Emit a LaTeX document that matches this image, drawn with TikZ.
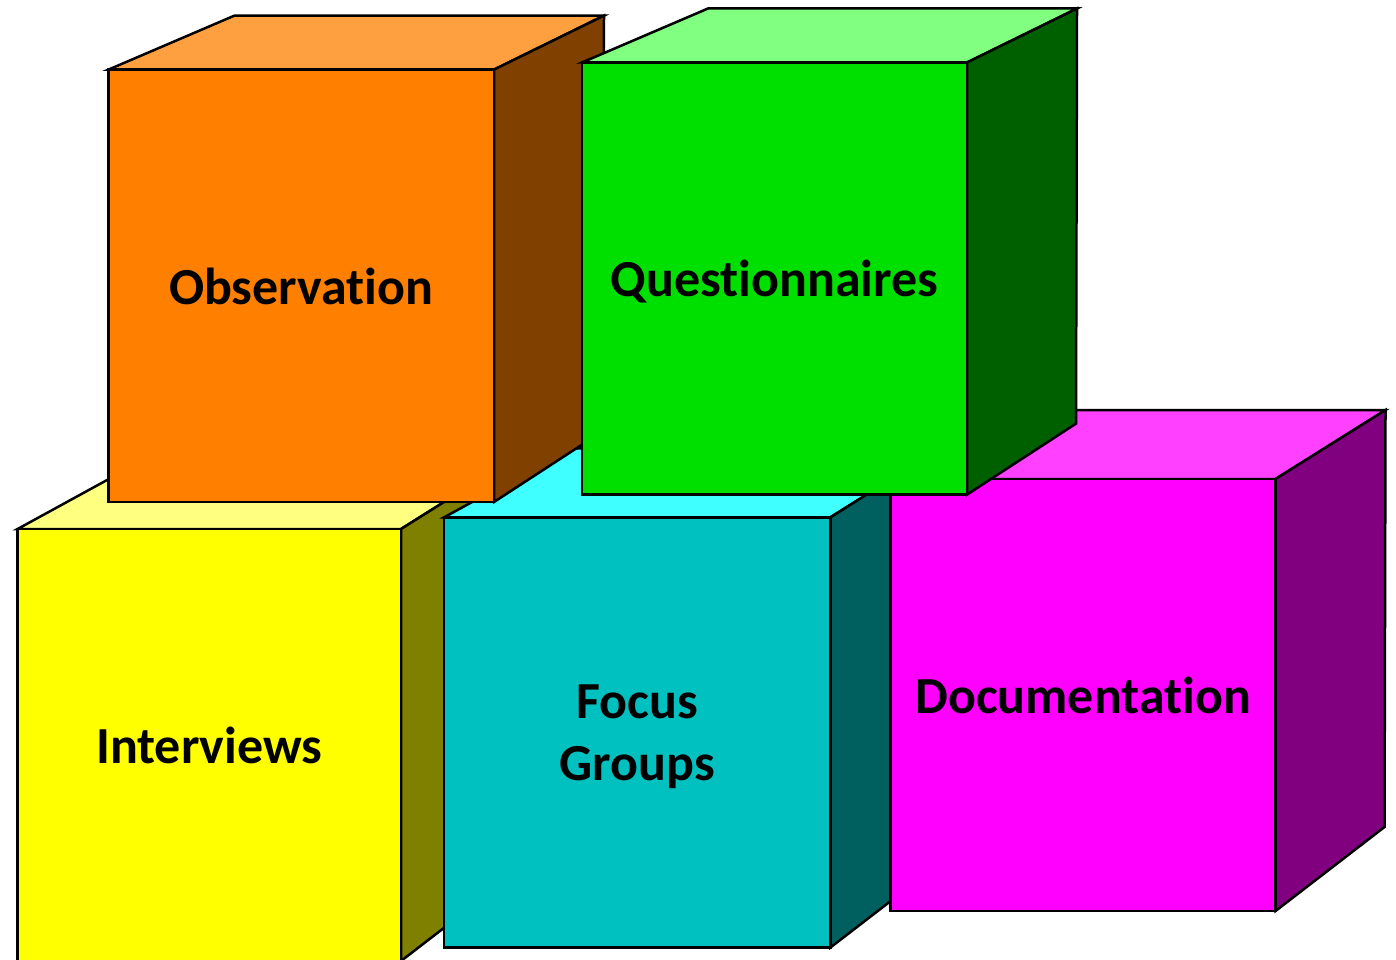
\documentclass[tikz,border=0pt]{standalone}
\usepackage{fontspec}
\setmainfont{Carlito}[Ligatures={NoCommon}]
\usetikzlibrary{calc}

\definecolor{obsfront}{HTML}{FF8000}
\definecolor{obstop}{HTML}{FFA040}
\definecolor{obsside}{HTML}{804000}
\definecolor{quefront}{HTML}{00E000}
\definecolor{quetop}{HTML}{80FF80}
\definecolor{queside}{HTML}{006000}
\definecolor{intfront}{HTML}{FFFF00}
\definecolor{inttop}{HTML}{FFFF80}
\definecolor{intside}{HTML}{808000}
\definecolor{focfront}{HTML}{00C0C0}
\definecolor{foctop}{HTML}{40FFFF}
\definecolor{focside}{HTML}{006060}
\definecolor{docfront}{HTML}{FF00FF}
\definecolor{doctop}{HTML}{FF40FF}
\definecolor{docside}{HTML}{800080}

\tikzset{
  face/.style={draw=black, line width=2.5pt},
  boxlabel/.style={align=center, text depth=0pt, font=\fontsize{52}{62}\selectfont\bfseries}
}

% #1 name, #2 colour prefix, #3 left, #4 top, #5 right, #6 bottom, #7 text
\newcommand{\block}[7]{%
  \coordinate (#1-a) at (#3,#4);
  \coordinate (#1-b) at (#5,#4);
  \coordinate (#1-c) at (#5,#6);
  \coordinate (#1-e) at ($(#1-a)+(126,\rowdy)$);
  \coordinate (#1-f) at ($(#1-b)+(110,\rowdy)$);
  \coordinate (#1-g) at ($(#1-c)+(109,\rowdyb)$);
  \filldraw[face, fill=#2top] (#1-a) -- (#1-e) -- (#1-f) -- (#1-b) -- cycle;
  \filldraw[face, fill=#2side] (#1-b) -- (#1-f) -- (#1-g) -- (#1-c) -- cycle;
  \filldraw[face, fill=#2front] (#1-a) rectangle (#1-c);
  \node[boxlabel] (#1) at ($(#1-a)!0.5!(#1-c)$) {#7};
}

\begin{document}
\begin{tikzpicture}[x=1pt, y=-1pt]
  \clip (0,0) rectangle (1396,960);

  % lower row
  \def\rowdy{-69}\def\rowdyb{-84}
  \block{int}{int}{17.6}{529}{401}{961}{Interviews}
  \block{foc}{foc}{444.2}{517.3}{830.4}{947.5}{Focus\\Groups}
  \block{doc}{doc}{890.7}{479}{1275.5}{911}{Documentation}

  % upper row
  \def\rowdy{-54}\def\rowdyb{-71}
  \block{obs}{obs}{108.5}{69.6}{494}{502}{Observation}
  \block{que}{que}{582}{62.5}{967}{494.6}{Questionnaires}
\end{tikzpicture}
\end{document}
